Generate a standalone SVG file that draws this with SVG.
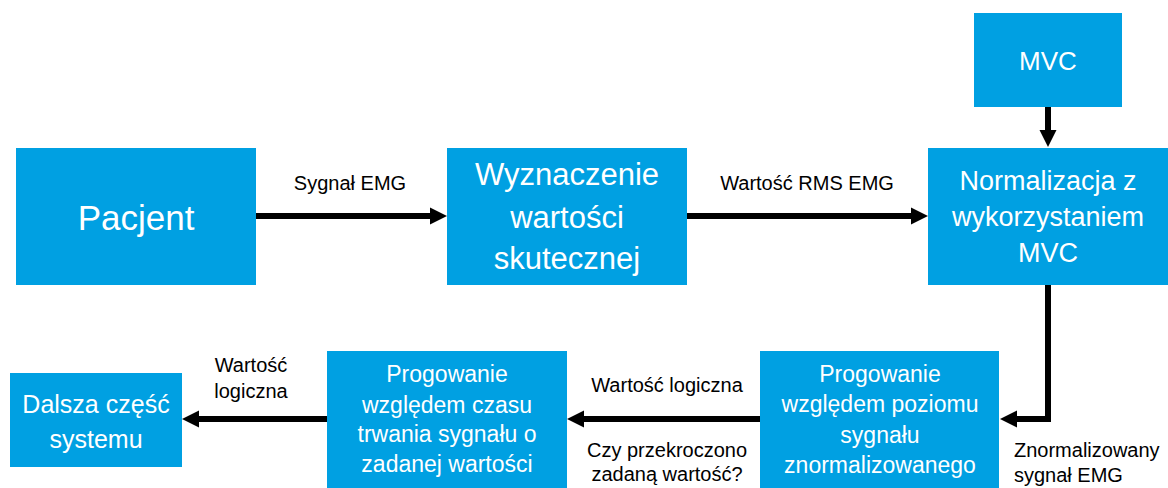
<svg xmlns="http://www.w3.org/2000/svg" width="1168" height="488" viewBox="0 0 1168 488">
<style>
.box{fill:#00A0E2}
.nt{font-family:"Liberation Sans",Arial,sans-serif;fill:#fff;text-anchor:middle}
.lb{font-family:"Liberation Sans",Arial,sans-serif;fill:#000;font-size:20px}
.c{fill:none;stroke:#000;stroke-width:6}
</style>
<defs>
<marker id="ah" markerUnits="userSpaceOnUse" markerWidth="18" markerHeight="18" refX="5" refY="8.5" orient="auto" overflow="visible">
<path d="M0,0 L17,8.5 L0,17 z" fill="#000"/>
</marker>
</defs>
<rect width="1168" height="488" fill="#fff"/>
<g id="connectors">
<path class="c" d="M256,216 L435,216" marker-end="url(#ah)"/>
<path class="c" d="M687,216 L916,216" marker-end="url(#ah)"/>
<path class="c" d="M1048,107 L1048,135" marker-end="url(#ah)"/>
<path class="c" d="M1048,285 L1048,419 L1012,419" marker-end="url(#ah)"/>
<path class="c" d="M760,419 L579,419" marker-end="url(#ah)"/>
<path class="c" d="M327,419 L194,419" marker-end="url(#ah)"/>
<text class="lb" x="350" y="190" text-anchor="middle">Sygnał EMG</text>
<text class="lb" x="807" y="190" text-anchor="middle">Wartość RMS EMG</text>
<text class="lb" x="1014" y="457">Znormalizowany</text>
<text class="lb" x="1014" y="482">sygnał EMG</text>
<text class="lb" x="667" y="392" text-anchor="middle">Wartość logiczna</text>
<text class="lb" x="667" y="457" text-anchor="middle">Czy przekroczono</text>
<text class="lb" x="667" y="481" text-anchor="middle">zadaną wartość?</text>
<text class="lb" x="251" y="372" text-anchor="middle">Wartość</text>
<text class="lb" x="251" y="398" text-anchor="middle">logiczna</text>
</g>
<g id="pacjent">
<rect class="box" x="16" y="148" width="240" height="137"/>
<text class="nt" x="136" y="230" font-size="35">Pacjent</text>
</g>
<g id="wyznaczenie">
<rect class="box" x="447" y="148" width="240" height="137"/>
<text class="nt" font-size="31"><tspan x="567" y="185">Wyznaczenie</tspan><tspan x="567" y="228">wartości</tspan><tspan x="567" y="269">skutecznej</tspan></text>
</g>
<g id="mvc">
<rect class="box" x="974" y="13" width="148" height="94"/>
<text class="nt" x="1048" y="70" font-size="26">MVC</text>
</g>
<g id="normalizacja">
<rect class="box" x="928" y="148" width="240" height="137"/>
<text class="nt" font-size="27"><tspan x="1048" y="190">Normalizacja z</tspan><tspan x="1048" y="226">wykorzystaniem</tspan><tspan x="1048" y="262">MVC</tspan></text>
</g>
<g id="progowanie-poziom">
<rect class="box" x="760" y="351" width="239" height="140"/>
<text class="nt" font-size="23"><tspan x="880" y="382">Progowanie</tspan><tspan x="880" y="412">względem poziomu</tspan><tspan x="880" y="443">sygnału</tspan><tspan x="880" y="473">znormalizowanego</tspan></text>
</g>
<g id="progowanie-czas">
<rect class="box" x="327" y="351" width="240" height="140"/>
<text class="nt" font-size="23"><tspan x="447" y="382">Progowanie</tspan><tspan x="447" y="413">względem czasu</tspan><tspan x="447" y="442">trwania sygnału o</tspan><tspan x="447" y="472">zadanej wartości</tspan></text>
</g>
<g id="dalsza">
<rect class="box" x="10" y="373" width="172" height="94"/>
<text class="nt" font-size="25"><tspan x="96" y="413">Dalsza część</tspan><tspan x="96" y="448">systemu</tspan></text>
</g>
</svg>
